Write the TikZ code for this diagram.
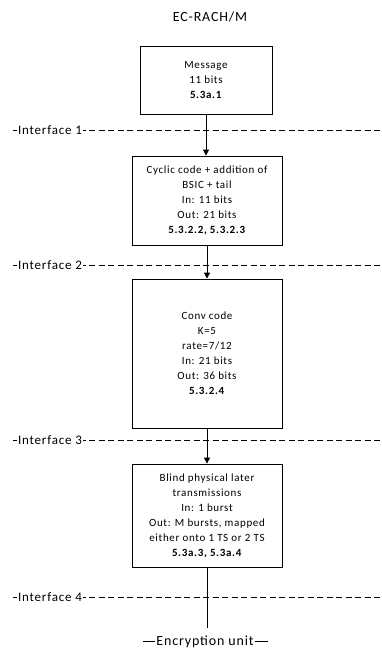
\documentclass[tikz,border=0pt]{standalone}
\usepackage{fontspec}
\setmainfont{Carlito}[LetterSpace=6]
\usetikzlibrary{arrows.meta}
\begin{document}
\begin{tikzpicture}[x=1pt,y=-1pt,
  box/.style={draw, line width=0.8pt, align=center, inner sep=0pt,
    font=\fontsize{11}{15}\selectfont},
  flow/.style={draw, line width=0.8pt, -{Triangle[length=6pt,width=6pt]}},
  plain/.style={draw, line width=0.8pt},
  iface/.style={draw, line width=0.6pt, dash pattern=on 6pt off 3.5pt},
  ilabel/.style={anchor=west, fill=white, inner sep=1pt, font=\fontsize{13}{15}\selectfont}]
\useasboundingbox (0,0) rectangle (382,648);
% title
\node[font=\fontsize{14}{16}\selectfont] (title) at (210,17) {EC-RACH/M};
% boxes
\node[box, minimum width=132pt, minimum height=68pt] (b1) at (206,80)
  {Message\\11 bits\\\textbf{5.3a.1}};
\node[box, minimum width=150pt, minimum height=89pt] (b2) at (207,200.5)
  {Cyclic code + addition of\\BSIC + tail\\In: 11 bits\\Out: 21 bits\\\textbf{5.3.2.2, 5.3.2.3}};
\node[box, minimum width=150pt, minimum height=149pt] (b3) at (207,353.5)
  {Conv code\\K=5\\rate=7/12\\In: 21 bits\\Out: 36 bits\\\textbf{5.3.2.4}};
\node[box, minimum width=150pt, minimum height=103pt] (b4) at (207,515.5)
  {Blind physical later\\transmissions\\In: 1 burst\\Out: M bursts, mapped\\either onto 1 TS or 2 TS\\\textbf{5.3a.3, 5.3a.4}};
% interfaces
\coordinate (i1a) at (13,130); \coordinate (i1b) at (382,130);
\coordinate (i2a) at (13,265); \coordinate (i2b) at (382,265);
\coordinate (i3a) at (13,440); \coordinate (i3b) at (382,440);
\coordinate (i4a) at (13,597); \coordinate (i4b) at (382,597);
\draw[iface] (i1a) -- (i1b);
\draw[iface] (i2a) -- (i2b);
\draw[iface] (i3a) -- (i3b);
\draw[iface] (i4a) -- (i4b);
% connectors
\draw[flow] (b1.south) -- (b1.south |- b2.north);
\draw[flow] (b2.south) -- (b3.north);
\draw[flow] (b3.south) -- (b4.north);
\node[font=\fontsize{14}{16}\selectfont, inner sep=0pt] (enc) at (205,642) {Encryption unit};
\coordinate (encl) at (143,641); \coordinate (encr) at (268,641);
\draw[plain] (b4.south) -- (b4.south |- 0,628) coordinate (endc);
\draw[line width=0.7pt] (encl) -- ([xshift=-1pt]enc.west |- encl);
\draw[line width=0.7pt] ([xshift=1pt]enc.east |- encr) -- (encr);
\node[ilabel] (l1) at (17,130) {Interface 1};
\node[ilabel] (l2) at (17,265) {Interface 2};
\node[ilabel] (l3) at (17,440) {Interface 3};
\node[ilabel] (l4) at (17,597) {Interface 4};
\end{tikzpicture}
\end{document}
